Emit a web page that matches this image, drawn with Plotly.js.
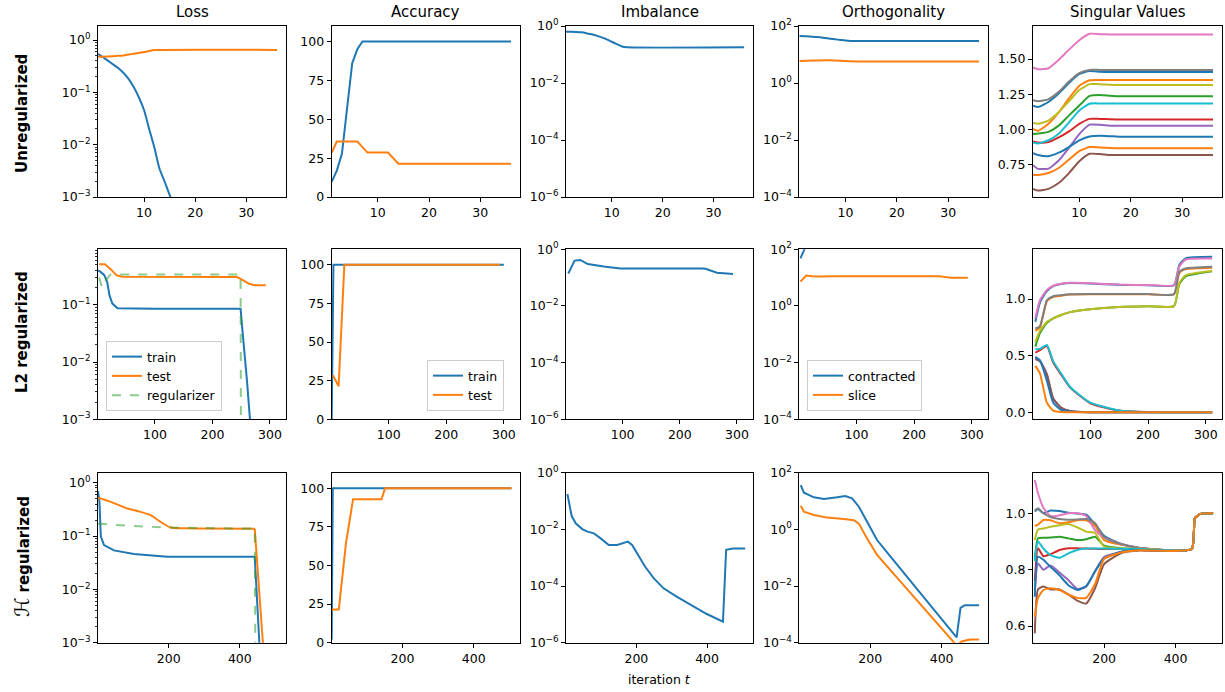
<!DOCTYPE html>
<html><head><meta charset="utf-8">
<script src="https://cdn.plot.ly/plotly-3.0.1.min.js"></script>
<style>body{margin:0;background:#fff;} #chart{width:1225px;height:692px;}</style>
</head><body><div id="chart"></div>
<script>
// ---------------- DATA ----------------
const colTitles = ['Loss', 'Accuracy', 'Imbalance', 'Orthogonality', 'Singular Values'];
const rowLabels = ['<b>Unregularized</b>', '<b>L2 regularized</b>', '<span style="font-size:20px">ℋ</span> <b>regularized</b>'];

// Row 1: unregularized
const unregLossTrainX = [1,2,3,4,5,6,7,8,9,10,11,12,13,14,15,16,17];
const unregLossTrain  = [0.55,0.47,0.40,0.34,0.29,0.235,0.18,0.125,0.08,0.046,0.02,0.009,0.0035,0.002,0.0011,0.0006,0.0003];
const unregLossTestX  = [1,3,5,6,7,8,9,10,11,12,36];
const unregLossTest   = [0.48,0.485,0.50,0.51,0.53,0.55,0.57,0.59,0.62,0.645,0.65];
const unregAccTrainX  = [1,2,3,4,5,6,7,36];
const unregAccTrain   = [9.7,17,28,58,86,95,100,100];
const unregAccTestX   = [1,2,6,8,12,14,36];
const unregAccTest    = [28.57,35.71,35.71,28.57,28.57,21.43,21.43];
const unregImbX       = [1,2,3,4,5,6,7,8,9,10,11,12,13,36];
const unregImb        = [0.63,0.63,0.62,0.60,0.56,0.51,0.46,0.40,0.34,0.28,0.23,0.19,0.178,0.178];
const unregOrthX      = [1,2,3,4,5,6,7,8,9,10,11,12,13,20,36];
const unregOrthContr  = [44.5,44,43,41.5,40,38,36,34,32.5,31,30,29.6,29.5,29.8,30];
const unregOrthSliceX = [1,4,7,10,12,36];
const unregOrthSlice  = [5.9,6.2,6.3,5.9,5.7,5.7];
const unregSvX = [1,2,4,6,8,10,12,14,16,18,36];
const unregSv = [
  [1.168,1.159,1.195,1.255,1.33,1.394,1.415,1.41,1.408,1.408,1.408],
  [1.003,0.99,1.04,1.122,1.22,1.31,1.35,1.352,1.352,1.352,1.352],
  [0.967,0.971,0.983,1.027,1.10,1.17,1.238,1.245,1.24,1.236,1.236],
  [0.914,0.907,0.91,0.943,0.986,1.039,1.075,1.075,1.072,1.07,1.07],
  [0.746,0.72,0.722,0.779,0.87,0.967,1.034,1.033,1.027,1.027,1.027],
  [0.578,0.566,0.578,0.619,0.69,0.774,0.827,0.825,0.818,0.818,0.818],
  [1.44,1.428,1.435,1.495,1.567,1.634,1.68,1.677,1.675,1.675,1.675],
  [1.207,1.20,1.214,1.267,1.34,1.40,1.423,1.423,1.422,1.422,1.422],
  [1.046,1.04,1.063,1.122,1.20,1.28,1.322,1.322,1.318,1.315,1.315],
  [0.907,0.90,0.923,0.97,1.05,1.135,1.183,1.185,1.185,1.185,1.185],
  [0.832,0.818,0.81,0.835,0.875,0.923,0.95,0.955,0.952,0.948,0.948],
  [0.678,0.676,0.69,0.726,0.786,0.846,0.875,0.872,0.868,0.866,0.866]
];

// Row 2: L2 regularized
const l2LossTrainX = [1,5,12,17,21,26,35,50,100,150,200,249,252,256,260,265,275];
const l2LossTrain  = [0.40,0.38,0.33,0.25,0.146,0.105,0.087,0.086,0.085,0.085,0.085,0.085,0.038,0.0146,0.0049,0.0011,0.0001];
const l2LossTestX  = [3,13,23,33,43,243,253,263,273,293];
const l2LossTest   = [0.51,0.51,0.42,0.33,0.31,0.305,0.27,0.235,0.22,0.22];
const l2RegX       = [3,8,13,23,33,249,250];
const l2Reg        = [0.30,0.20,0.26,0.34,0.34,0.34,0.00001];
const l2AccTrainX  = [1,4,300];
const l2AccTrain   = [0,100,100];
const l2AccTestX   = [3,13,23,293];
const l2AccTest    = [28.57,21.43,100,100];
const l2ImbX       = [5,16,26,33,39,67,96,239,245,265,293];
const l2Imb        = [0.14,0.40,0.42,0.34,0.30,0.245,0.21,0.21,0.205,0.15,0.135];
const l2OrthContrX = [3,13,23];
const l2OrthContr  = [48,140,300];
const l2OrthSliceX = [3,13,23,33,63,243,263,293];
const l2OrthSlice  = [7.2,11.8,11.2,10.9,11.3,11.3,10.0,10.0];
const l2SvX = [5,13,25,36,50,65,100,150,200,245,254,265,311];
const l2Sv = [
  [0.80,0.97,1.07,1.115,1.133,1.142,1.138,1.126,1.122,1.122,1.30,1.36,1.374],
  [0.72,0.75,0.98,1.02,1.03,1.04,1.043,1.043,1.043,1.043,1.23,1.265,1.278],
  [0.58,0.70,0.79,0.83,0.86,0.885,0.91,0.93,0.937,0.938,1.13,1.2,1.245],
  [0.526,0.55,0.585,0.44,0.33,0.22,0.08,0.015,0.002,0.001,0.001,0.001,0.0],
  [0.48,0.455,0.34,0.12,0.04,0.012,0.001,0,0,0,0,0,0],
  [0.47,0.45,0.33,0.12,0.04,0.012,0.0,0,0,0,0,0,0],
  [0.83,0.99,1.08,1.118,1.135,1.144,1.14,1.128,1.124,1.124,1.285,1.35,1.359],
  [0.74,0.76,0.99,1.025,1.035,1.042,1.044,1.044,1.044,1.044,1.24,1.27,1.285],
  [0.62,0.72,0.80,0.83,0.86,0.885,0.91,0.93,0.937,0.938,1.14,1.21,1.25],
  [0.556,0.56,0.594,0.45,0.34,0.226,0.085,0.016,0.002,0.001,0.001,0.001,0.0],
  [0.49,0.46,0.28,0.085,0.02,0.008,0.001,0,0,0,0,0,0],
  [0.41,0.344,0.085,0.015,0.002,0.0,0,0,0,0,0,0,0]
];

// Row 3: H regularized
const hLossTrainX = [1,5,9,18,46,102,196,442,455,462];
const hLossTrain  = [0.7,0.45,0.098,0.068,0.054,0.046,0.041,0.041,0.001,0.0001];
const hLossTestX  = [1,7,37,84,121,149,177,205,242,442,465,480];
const hLossTest   = [0.51,0.51,0.44,0.33,0.285,0.247,0.185,0.145,0.14,0.138,0.001,0.0001];
const hRegX       = [1,7,102,196,442,445];
const hReg        = [0.17,0.17,0.154,0.145,0.138,0.00001];
const hAccTrainX  = [1,4,506];
const hAccTrain   = [2,100,100];
const hAccTestX   = [1,21,31,41,51,61,141,151,506];
const hAccTest    = [21.43,21.43,42.86,64.29,78.57,92.86,92.86,100,100];
const hImbX = [5,17,29,48,62,80,99,122,146,160,176,188,202,225,249,277,314,361,398,445,454,473,508];
const hImb  = [0.177,0.0295,0.016,0.01,0.0083,0.0072,0.0048,0.0028,0.0028,0.0032,0.0037,0.0028,0.0014,0.00048,0.00019,0.000083,0.000042,0.000019,0.0000105,0.0000055,0.0019,0.0021,0.0021];
const hOrthContrX = [5,14,42,70,107,130,149,168,191,219,247,293,340,386,442,453,465,505];
const hOrthContr  = [36.7,19.6,13.5,11.8,13.5,15,12.4,6.3,1.86,0.42,0.155,0.03,0.0058,0.0011,0.000155,0.0017,0.0021,0.0021];
const hOrthSliceX = [5,14,42,79,126,154,168,191,219,293,340,386,442,456,479,505];
const hOrthSlice  = [6.8,4.2,3.2,2.6,2.3,2.1,1.6,0.48,0.126,0.011,0.0023,0.00052,0.00008,0.00011,0.00013,0.00013];
const hSvX = [6,15,30,50,75,100,125,150,175,200,250,300,445,454,470,505];
const hSv = [
  [1.006,1.015,1.0,1.01,1.008,1.002,0.999,0.995,0.96,0.92,0.89,0.877,0.873,0.982,0.998,1.0],
  [0.955,0.96,0.976,0.975,0.965,0.968,0.975,0.975,0.955,0.905,0.888,0.877,0.873,0.982,0.998,1.0],
  [0.84,0.911,0.913,0.914,0.917,0.911,0.905,0.908,0.917,0.885,0.876,0.874,0.873,0.982,0.998,1.0],
  [0.76,0.876,0.848,0.855,0.87,0.876,0.876,0.875,0.874,0.873,0.873,0.873,0.873,0.982,0.998,1.0],
  [0.728,0.822,0.80,0.815,0.79,0.763,0.732,0.74,0.795,0.845,0.864,0.87,0.873,0.982,0.998,1.0],
  [0.574,0.73,0.74,0.73,0.73,0.712,0.69,0.68,0.735,0.82,0.86,0.868,0.873,0.982,0.998,1.0],
  [1.118,1.071,1.02,0.99,0.993,1.0,1.0,0.99,0.94,0.915,0.89,0.877,0.873,0.982,0.998,1.0],
  [1.01,1.018,1.0,0.987,0.98,0.977,0.978,0.98,0.965,0.915,0.89,0.877,0.873,0.982,0.998,1.0],
  [0.905,0.943,0.946,0.952,0.958,0.962,0.95,0.935,0.93,0.882,0.875,0.874,0.873,0.982,0.998,1.0],
  [0.83,0.9,0.875,0.852,0.842,0.858,0.87,0.875,0.875,0.875,0.874,0.873,0.873,0.982,0.998,1.0],
  [0.704,0.846,0.835,0.81,0.78,0.745,0.728,0.742,0.795,0.84,0.865,0.87,0.873,0.982,0.998,1.0],
  [0.633,0.70,0.728,0.734,0.728,0.712,0.70,0.70,0.75,0.838,0.862,0.869,0.873,0.982,0.998,1.0]
];

// Axis settings (ranges / ticks)
const xRanges = [[1,37.75],[1,328],[1,530]];
const xTickVals = [[10,20,30],[100,200,300],[200,400]];
const lossRanges = [[-3,0.27],[-3,-0.03],[-3,0.19]];
const svRanges = [[0.52,1.735],[-0.062,1.44],[0.541,1.144]];
const svTickVals = [[0.75,1.0,1.25,1.5],[0.0,0.5,1.0],[0.6,0.8,1.0]];
const svTickDigits = [2,1,1];

// ---------------- DRAWING ----------------
const COLORS = ['#1f77b4','#ff7f0e','#2ca02c','#d62728','#9467bd','#8c564b','#e377c2','#7f7f7f','#bcbd22','#17becf'];
const W = 1225, H = 692;
const colPx = [[98,286],[331.7,520],[566,753],[799.3,988],[1033,1222]];
const rowPx = [[26,197],[249.3,419.3],[472.7,642.7]];
const FONT = 'DejaVu Sans';
const data = [];
const layout = {
  width: W, height: H, margin: {l:0, r:0, t:0, b:0},
  paper_bgcolor: '#fff', plot_bgcolor: '#fff',
  font: {family: FONT, size: 12.5, color: '#000'},
  showlegend: true, annotations: []
};
function sfx(r,c){ const n = r*5+c+1; return n===1 ? '' : String(n); }
function line(r,c,x,y,color,extra){
  const s = sfx(r,c);
  data.push(Object.assign({type:'scatter', mode:'lines', x:x, y:y, xaxis:'x'+s, yaxis:'y'+s,
    line:{color:color, width:2}, showlegend:false, hoverinfo:'skip'}, extra||{}));
}
function smooth(r,c,x,y,color){ line(r,c,x,y,color,{line:{color:color, width:2, shape:'spline', smoothing:0.5}}); }
function sup(e){ return '10<sup>' + (e<0 ? '\u2212'+(-e) : e) + '</sup>'; }
function baseAxis(){
  return {showline:true, mirror:true, linecolor:'#000', linewidth:1, ticks:'outside', ticklen:4,
    tickwidth:1, tickcolor:'#000', showgrid:false, zeroline:false, fixedrange:true,
    tickfont:{family:FONT, size:12.5, color:'#000'}, tickmode:'array'};
}
const lossMinor = [];
for (let e=-3; e<=0; e++) for (let m=2; m<=9; m++) lossMinor.push(m*Math.pow(10,e));

for (let r=0; r<3; r++){
  for (let c=0; c<5; c++){
    const s = sfx(r,c);
    const xa = baseAxis();
    Object.assign(xa, {domain:[colPx[c][0]/W, colPx[c][1]/W], range:xRanges[r], tickvals:xTickVals[r],
      ticktext:xTickVals[r].map(String), anchor:'y'+s});
    const ya = baseAxis();
    Object.assign(ya, {domain:[1-rowPx[r][1]/H, 1-rowPx[r][0]/H], anchor:'x'+s});
    if (c===0){
      const ex=[-3,-2,-1,0];
      Object.assign(ya, {type:'log', range:lossRanges[r], tickvals:ex.map(e=>Math.pow(10,e)), ticktext:ex.map(sup),
        minor:{tickmode:'array', tickvals:lossMinor, ticks:'outside', ticklen:2, tickwidth:0.8, tickcolor:'#000'}});
    } else if (c===1){
      Object.assign(ya, {range:[0,110], tickvals:[0,25,50,75,100], ticktext:['0','25','50','75','100']});
    } else if (c===2){
      const ex=[-6,-4,-2,0];
      Object.assign(ya, {type:'log', range:[-6,0], tickvals:ex.map(e=>Math.pow(10,e)), ticktext:ex.map(sup)});
    } else if (c===3){
      const ex=[-4,-2,0,2];
      Object.assign(ya, {type:'log', range:[-4,2], tickvals:ex.map(e=>Math.pow(10,e)), ticktext:ex.map(sup)});
    } else {
      Object.assign(ya, {range:svRanges[r], tickvals:svTickVals[r], ticktext:svTickVals[r].map(v=>v.toFixed(svTickDigits[r]))});
    }
    layout['xaxis'+s] = xa;
    layout['yaxis'+s] = ya;
  }
}

const REG = {color:'rgba(44,160,44,0.55)', width:2, dash:'dash'};
// Row 1
smooth(0,0,unregLossTrainX,unregLossTrain,COLORS[0]);
smooth(0,0,unregLossTestX,unregLossTest,COLORS[1]);
line(0,1,unregAccTrainX,unregAccTrain,COLORS[0]);
line(0,1,unregAccTestX,unregAccTest,COLORS[1]);
smooth(0,2,unregImbX,unregImb,COLORS[0]);
smooth(0,3,unregOrthX,unregOrthContr,COLORS[0]);
smooth(0,3,unregOrthSliceX,unregOrthSlice,COLORS[1]);
unregSv.forEach((v,i)=>smooth(0,4,unregSvX,v,COLORS[i%10]));
// Row 2
line(1,0,l2LossTrainX,l2LossTrain,COLORS[0],{showlegend:true,name:'train',legend:'legend'});
line(1,0,l2LossTestX,l2LossTest,COLORS[1],{showlegend:true,name:'test',legend:'legend'});
line(1,0,l2RegX,l2Reg,null,{showlegend:true,name:'regularizer',legend:'legend',line:REG});
line(1,1,l2AccTrainX,l2AccTrain,COLORS[0],{showlegend:true,name:'train',legend:'legend2'});
line(1,1,l2AccTestX,l2AccTest,COLORS[1],{showlegend:true,name:'test',legend:'legend2'});
line(1,2,l2ImbX,l2Imb,COLORS[0]);
line(1,3,l2OrthContrX,l2OrthContr,COLORS[0],{showlegend:true,name:'contracted',legend:'legend3'});
line(1,3,l2OrthSliceX,l2OrthSlice,COLORS[1],{showlegend:true,name:'slice',legend:'legend3'});
l2Sv.forEach((v,i)=>smooth(1,4,l2SvX,v,COLORS[i%10]));
// Row 3
line(2,0,hLossTrainX,hLossTrain,COLORS[0]);
smooth(2,0,hLossTestX.slice(0,10),hLossTest.slice(0,10),COLORS[1]);
line(2,0,hLossTestX.slice(9),hLossTest.slice(9),COLORS[1]);
line(2,0,hRegX,hReg,null,{line:REG});
line(2,1,hAccTrainX,hAccTrain,COLORS[0]);
line(2,1,hAccTestX,hAccTest,COLORS[1]);
line(2,2,hImbX,hImb,COLORS[0]);
line(2,3,hOrthContrX,hOrthContr,COLORS[0]);
line(2,3,hOrthSliceX,hOrthSlice,COLORS[1]);
hSv.forEach((v,i)=>smooth(2,4,hSvX,v,COLORS[i%10]));

// Legends
const legBase = {xref:'paper', yref:'paper', bgcolor:'rgba(255,255,255,0.85)', bordercolor:'#cccccc', borderwidth:1,
  font:{family:FONT, size:12.5, color:'#000'}, itemwidth:30, tracegroupgap:0, traceorder:'normal'};
layout.legend  = Object.assign({}, legBase, {x:106/W, y:1-411/H, xanchor:'left',  yanchor:'bottom'});
layout.legend2 = Object.assign({}, legBase, {x:504/W, y:1-411/H, xanchor:'right', yanchor:'bottom'});
layout.legend3 = Object.assign({}, legBase, {x:807/W, y:1-411/H, xanchor:'left',  yanchor:'bottom'});

// Titles & labels
colTitles.forEach((t,c)=>layout.annotations.push({text:t, xref:'paper', yref:'paper',
  x:(colPx[c][0]+colPx[c][1])/2/W, y:1-12/H, xanchor:'center', yanchor:'middle', showarrow:false,
  font:{family:FONT, size:15, color:'#000'}}));
const rowCenters = [114, 332, 557];
rowLabels.forEach((t,r)=>layout.annotations.push({text:t, xref:'paper', yref:'paper',
  x:22/W, y:1-rowCenters[r]/H, xanchor:'center', yanchor:'middle', textangle:-90, showarrow:false,
  font:{family:FONT, size:15, color:'#000'}}));
layout.annotations.push({text:'iteration <i>t</i>', xref:'paper', yref:'paper', x:659.5/W, y:1-679/H,
  xanchor:'center', yanchor:'middle', showarrow:false, font:{family:FONT, size:12.5, color:'#000'}});

Plotly.newPlot('chart', data, layout, {displayModeBar:false, staticPlot:true});
</script></body></html>
